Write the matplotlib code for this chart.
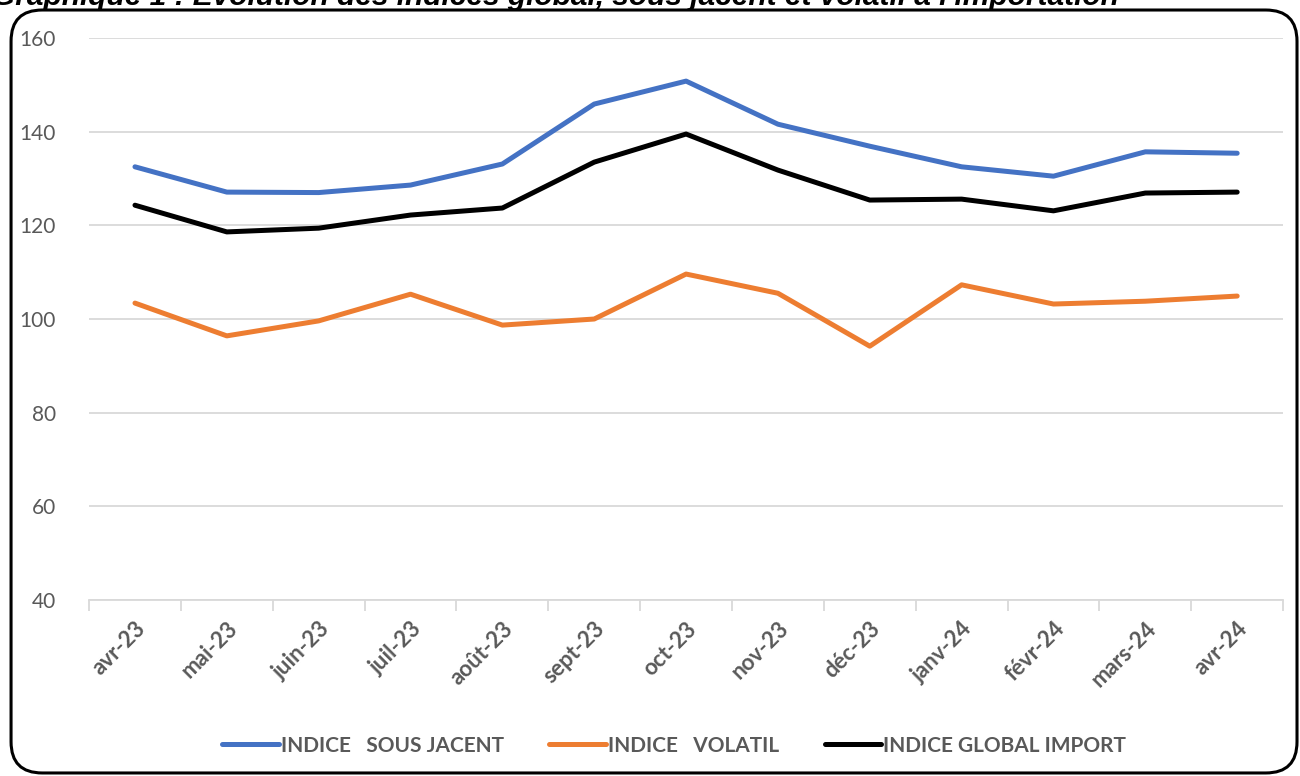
import matplotlib.pyplot as plt
from matplotlib.patches import FancyBboxPatch

# Données
mois = ['avr-23', 'mai-23', 'juin-23', 'juil-23', 'août-23', 'sept-23', 'oct-23',
        'nov-23', 'déc-23', 'janv-24', 'févr-24', 'mars-24', 'avr-24']
sous_jacent = [132.5, 127.1, 127.0, 128.6, 133.1, 145.9, 150.8, 141.6, 136.9, 132.5, 130.5, 135.7, 135.4]
volatil = [103.4, 96.4, 99.6, 105.3, 98.7, 100.0, 109.6, 105.5, 94.2, 107.3, 103.2, 103.8, 104.9]
global_import = [124.3, 118.6, 119.4, 122.2, 123.7, 133.5, 139.5, 131.8, 125.4, 125.6, 123.1, 126.9, 127.1]

gris = '#595959'
plt.rcParams['font.family'] = ['Lato', 'DejaVu Sans']

fig = plt.figure(figsize=(13, 7.76), dpi=100)
ax = fig.add_axes([0.0685, 0.2268, 0.9185, 0.7242])

x = range(len(mois))
ax.plot(x, sous_jacent, color='#4472C4', lw=3.6, label='INDICE   SOUS JACENT', solid_capstyle='round')
ax.plot(x, volatil, color='#ED7D31', lw=3.6, label='INDICE   VOLATIL', solid_capstyle='round')
ax.plot(x, global_import, color='#000000', lw=3.6, label='INDICE GLOBAL IMPORT', solid_capstyle='round')

ax.set_xlim(-0.5, len(mois) - 0.5)
ax.set_ylim(40, 160)
ax.set_yticks(range(40, 161, 20))
ax.grid(axis='y', color='#d9d9d9', lw=1.3)
ax.set_axisbelow(True)
for s in ['top', 'right', 'left']:
    ax.spines[s].set_visible(False)
ax.spines['bottom'].set_color('#d9d9d9')
ax.spines['bottom'].set_linewidth(1.3)

ax.set_xticks(list(x))
ax.set_xticklabels(mois, rotation=45, ha='right', rotation_mode='anchor',
                   fontsize=16, fontweight='bold', color=gris)
ax.set_xticks([i - 0.5 for i in range(len(mois) + 1)], minor=True)
ax.tick_params(axis='x', which='major', length=0, pad=13)
ax.tick_params(axis='x', which='minor', length=8, color='#d9d9d9', width=1.3)
ax.tick_params(axis='y', length=0, labelsize=15, labelcolor=gris, pad=24)

ax.legend(loc='center', bbox_to_anchor=(0.49, -0.259), ncol=3, frameon=False,
          prop={'size': 15, 'weight': 'bold'}, labelcolor=gris,
          handlelength=2.7, handletextpad=0.1, columnspacing=2.2)

# Cadre arrondi
cadre = FancyBboxPatch((0.0085, 0.0039), 0.9892, 0.9832, boxstyle='round,pad=0,rounding_size=0.024',
                       transform=fig.transFigure, fill=False, ec='black', lw=2.2,
                       mutation_aspect=1300 / 776)
fig.patches.append(cadre)

# Titre (coupé en haut, comme sur l'original)
fig.text(0.427, 0.9936, "Graphique 1 : Evolution des indices global, sous jacent et volatil à l'importation",
         ha='center', va='baseline', fontsize=21.5, fontweight='bold', style='italic',
         family='Liberation Sans')

plt.savefig('out.png', dpi=100)
